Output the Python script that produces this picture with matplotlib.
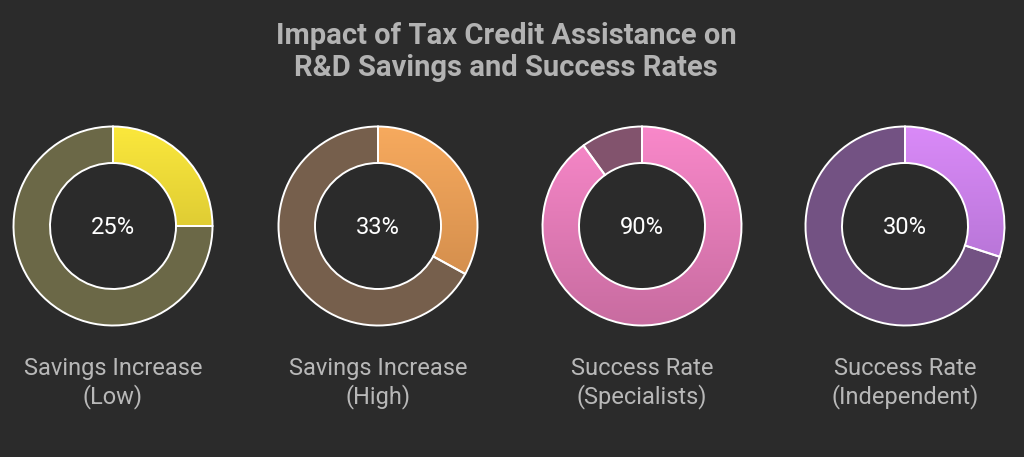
import matplotlib
matplotlib.use('Agg')
import matplotlib.pyplot as plt
import numpy as np
from matplotlib.patches import Wedge
from matplotlib.colors import to_rgb

# Chart data
labels = ['Savings Increase\n(Low)', 'Savings Increase\n(High)',
          'Success Rate\n(Specialists)', 'Success Rate\n(Independent)']
percents = [25, 33, 90, 30]
top_colors = ['#fbe83c', '#f7aa5e', '#f988ca', '#da8af8']
bottom_colors = ['#c4b22c', '#c98648', '#c86ca0', '#a86cc8']
rest_colors = ['#6b6847', '#765f4c', '#82536d', '#735283']

bg = '#2b2b2b'
W, H = 1024, 457
plt.rcParams['font.family'] = ['Roboto', 'DejaVu Sans']

fig = plt.figure(figsize=(W / 100, H / 100), dpi=100, facecolor=bg)
ax = fig.add_axes([0, 0, 1, 1])
ax.set_facecolor(bg)
ax.set_xlim(0, W)
ax.set_ylim(H, 0)
ax.axis('off')

centers_x = [113, 378, 642, 905]
cy = 226
r_out, r_in = 99.5, 63

for cx, p, c_top, c_bot, c_rest, lab in zip(centers_x, percents, top_colors,
                                             bottom_colors, rest_colors, labels):
    # y axis is inverted, so angles run clockwise on screen
    a_end = -90 + 360 * p / 100
    hi = Wedge((cx, cy), r_out, -90, a_end, width=r_out - r_in,
               facecolor='none', edgecolor='white', lw=1.4, zorder=3)
    rest = Wedge((cx, cy), r_out, a_end, 270, width=r_out - r_in,
                 facecolor=c_rest, edgecolor='white', lw=1.4, zorder=3)
    ax.add_patch(rest)
    ax.add_patch(hi)

    # vertical gradient for the highlighted segment
    t = np.linspace(0, 1, 256)[:, None]
    grad = (1 - t) * np.array(to_rgb(c_top)) + t * np.array(to_rgb(c_bot))
    grad = np.repeat(grad[:, None, :], 2, axis=1).reshape(256, 2, 3)
    fill = Wedge((cx, cy), r_out, -90, a_end, width=r_out - r_in,
                 facecolor='none', edgecolor='none')
    ax.add_patch(fill)
    im = ax.imshow(grad, extent=[cx - r_out, cx + r_out, cy + r_out, cy - r_out],
                   aspect='auto', zorder=2, interpolation='bilinear')
    im.set_clip_path(fill)

    ax.text(cx, cy + 1, f'{p}%', color='white', fontsize=17, ha='center',
            va='center', zorder=4)
    ax.text(cx, 383, lab, color='#b8b8b8', fontsize=17, ha='center',
            va='center', linespacing=1.2)

ax.text(506, 52, 'Impact of Tax Credit Assistance on\nR&D Savings and Success Rates',
        color='#b3b3b3', fontsize=21, fontweight='bold', ha='center',
        va='center', linespacing=1.2)

ax.set_xlim(0, W)
ax.set_ylim(H, 0)
fig.savefig('out.png', dpi=100, facecolor=bg)
